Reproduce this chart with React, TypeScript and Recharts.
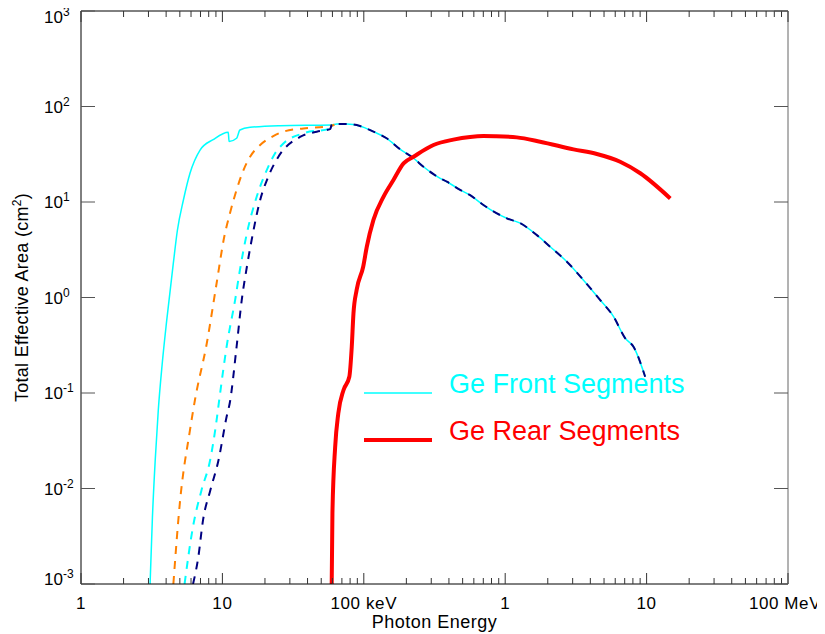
import React from 'react';
import { LineChart, Line, XAxis, YAxis, Legend } from 'recharts';

const FONT = '"Liberation Sans", Arial, Helvetica, sans-serif';

// photon energy (keV), total effective area (cm^2)
const frontTotal = [
  [3.08, 0.001], [3.2, 0.005], [3.35, 0.02], [3.52, 0.066], [3.75, 0.2], [4.04, 0.58],
  [4.5, 2.3], [4.8, 5], [5.3, 10.5], [5.9, 20], [6.95, 35], [8.6, 45], [11.0, 53.7],
  [11.15, 43], [12.6, 46.5], [13.3, 56.7], [15.7, 60.5], [25.6, 63], [59, 64.2],
  [64.4, 65.6], [75.6, 65.6], [94, 62.5], [117, 54.5], [145, 46.5], [181, 35.6],
  [225, 28.7], [264, 23.4], [311, 19.6], [347, 17.7], [387, 16.3], [480, 13.4],
  [565, 11.8], [702, 9.3], [1027, 6.75], [1276, 6.0], [1675, 4.5], [2080, 3.4],
  [2730, 2.37], [3580, 1.52], [4700, 0.94], [5840, 0.63], [7060, 0.374], [8080, 0.305],
  [9770, 0.148],
];

const frontOrange = [
  [4.5, 0.001], [5.0, 0.007], [5.9, 0.041], [6.4, 0.085], [7.75, 0.33], [9.1, 1.41],
  [10.3, 4.3], [11.3, 7.6], [12.6, 13.4], [14.1, 21.6], [15.7, 29.8], [18.5, 39.5],
  [22.9, 49], [27, 54.5], [37.4, 59], [57.8, 62.5], [62, 64.5],
];

const frontCyanDash = [
  [5.4, 0.001], [6.2, 0.004], [7.1, 0.0095], [8.2, 0.02], [9.1, 0.052], [9.5, 0.085],
  [10.8, 0.33], [12.3, 0.94], [13.3, 1.94], [14.9, 4.7], [17.5, 11.4], [20.6, 21.6],
  [23.6, 32.4], [27, 41], [37.4, 52.4], [57.8, 59], [59.5, 64.5],
];

const frontNavy = [
  [6.2, 0.001], [6.75, 0.0019], [7.3, 0.0047], [8.2, 0.0095], [9.4, 0.02], [10.7, 0.056],
  [11.3, 0.08], [12.6, 0.305], [13.7, 0.94], [14.9, 2.1], [16.1, 4.0], [18.5, 10.5],
  [21.1, 18.4], [24.9, 29.8], [35.4, 48], [46.5, 54.5], [57.8, 58], [59.5, 64.5],
  [64.4, 65.6], [75.6, 65.6], [94, 62.5], [117, 54.5], [145, 46.5], [181, 35.6],
  [225, 28.7], [264, 23.4], [311, 19.6], [347, 17.7], [387, 16.3], [480, 13.4],
  [565, 11.8], [702, 9.3], [1027, 6.75], [1276, 6.0], [1675, 4.5], [2080, 3.4],
  [2730, 2.37], [3580, 1.52], [4700, 0.94], [5840, 0.63], [7060, 0.374], [8080, 0.305],
  [9770, 0.148],
];

const rear = [
  [59.3, 0.001], [60, 0.0055], [62.7, 0.027], [66, 0.061], [71.8, 0.107], [79, 0.148],
  [82.2, 0.305], [84.5, 0.68], [89, 1.2], [99, 2.1], [105, 3.4], [117, 6.5], [138, 11.4],
  [162, 17], [191, 25.4], [225, 29.8], [311, 39.5], [430, 45], [565, 48], [702, 49],
  [850, 48.8], [1208, 47.5], [1766, 42.8], [3040, 35.6], [4450, 31.8], [6500, 26.4],
  [9020, 20], [14700, 10.9],
];

const xMajor = [1, 10, 100, 1000, 10000, 100000];
const xLabels = ['1', '10', '100 keV', '1', '10', '100 MeV'];
const xMinorMult = [2, 3, 4, 5, 6, 7, 8, 9];
const xTicks = [
  ...xMajor,
  ...xMajor.slice(0, 5).flatMap((d) => xMinorMult.map((m) => m * d)),
].sort((a, b) => a - b);

const yTicks = [0.001, 0.01, 0.1, 1, 10, 100, 1000];

const legendItems = [
  { name: 'Ge Front Segments', color: '#00ffff', width: 1.5 },
  { name: 'Ge Rear Segments', color: '#ff0000', width: 4 },
];

const toPts = (arr: number[][]) => arr.map(([e, a]) => ({ e, a }));

const XTick = (props: any) => {
  const { x, y, payload, side } = props;
  const idx = xMajor.indexOf(payload.value);
  const major = idx >= 0;
  const dir = side === 'top' ? 1 : -1;
  const len = major ? 11 : 6;
  // last label sits on the page edge, nudge it in a bit
  const dx = idx === xMajor.length - 1 ? -3 : 0;
  return (
    <g>
      <line x1={x} x2={x} y1={y} y2={y + dir * len} stroke="#333" />
      {side !== 'top' && major && (
        <text x={x + dx} y={y + 25} textAnchor="middle" fontSize={17} letterSpacing={0.6}
          fontFamily={FONT} fill="#000">
          {xLabels[idx]}
        </text>
      )}
    </g>
  );
};

const YTick = (props: any) => {
  const { x, y, payload, side } = props;
  const exp = Math.round(Math.log10(payload.value));
  if (side === 'right') {
    return <line x1={x} x2={x - 14} y1={y} y2={y} stroke="#555" />;
  }
  const shift = exp === 3 ? 6 : exp === -3 ? -5 : 0;
  return (
    <g>
      <line x1={x} x2={x + 14} y1={y} y2={y} stroke="#555" />
      <text x={x - 37} y={y + shift + 6} fontSize={17} fontFamily={FONT} fill="#000">
        10<tspan dy={-7} fontSize={12}>{exp}</tspan>
      </text>
    </g>
  );
};

const YTitle = (props: any) => {
  const vb = props.viewBox;
  const cx = vb.x + vb.width - 59;
  const cy = vb.y + vb.height / 2;
  return (
    <text x={cx} y={cy} transform={`rotate(-90 ${cx} ${cy})`} textAnchor="middle" dy={6}
      fontSize={18} letterSpacing={0.3} fontFamily={FONT} fill="#000">
      Total Effective Area (cm<tspan dy={-7} fontSize={12}>2</tspan><tspan dy={7}>)</tspan>
    </text>
  );
};

const XTitle = (props: any) => {
  const vb = props.viewBox;
  return (
    <text x={vb.x + vb.width / 2} y={vb.y + 44} textAnchor="middle" fontSize={18}
      letterSpacing={0.5} fontFamily={FONT} fill="#000">
      Photon Energy
    </text>
  );
};

const renderLegend = () => (
  <svg width={360} height={90} style={{ overflow: 'visible' }}>
    {legendItems.map((item, i) => (
      <g key={item.name}>
        <line x1={6} x2={74} y1={25 + 47 * i} y2={25 + 47 * i} stroke={item.color}
          strokeWidth={item.width} />
        <text x={91} y={25 + 47 * i} fill={item.color} fontSize={27} fontFamily={FONT}>
          {item.name}
        </text>
      </g>
    ))}
  </svg>
);

export default function App() {
  return (
    <div style={{ width: 825, height: 634, margin: '-8px 0 0 -8px' }}>
      <LineChart width={825} height={634} margin={{ top: 10, right: 36, bottom: 20, left: 21 }}>
        <XAxis dataKey="e" type="number" scale="log" domain={[1, 100000]} ticks={xTicks}
          interval={0} allowDataOverflow tickLine={false} tickSize={0} tickMargin={0}
          height={30} axisLine={{ stroke: '#000' }} tick={<XTick side="bottom" />}
          label={<XTitle />} />
        <XAxis xAxisId="top" orientation="top" dataKey="e" type="number" scale="log"
          domain={[1, 100000]} ticks={xTicks} interval={0} allowDataOverflow tickLine={false}
          tickSize={0} tickMargin={0} height={1} axisLine={{ stroke: '#000' }}
          tick={<XTick side="top" />} />
        <YAxis type="number" scale="log" domain={[0.001, 1000]} ticks={yTicks} interval={0}
          allowDataOverflow tickLine={false} tickSize={0} tickMargin={0} width={60}
          axisLine={{ stroke: '#000' }} tick={<YTick side="left" />} label={<YTitle />} />
        <YAxis yAxisId="right" orientation="right" type="number" scale="log"
          domain={[0.001, 1000]} ticks={yTicks} interval={0} allowDataOverflow tickLine={false}
          tickSize={0} tickMargin={0} width={1} axisLine={{ stroke: '#666' }}
          tick={<YTick side="right" />} />
        <Legend layout="vertical" align="center" verticalAlign="middle" content={renderLegend}
          wrapperStyle={{ left: 358, top: 368, width: 360 }} />
        <Line data={toPts(frontTotal)} dataKey="a" type="monotone" stroke="#00ffff"
          strokeWidth={1.5} dot={false} activeDot={false} isAnimationActive={false} />
        <Line data={toPts(frontOrange)} dataKey="a" type="monotone" stroke="#ff8000"
          strokeWidth={2} strokeDasharray="8 7" dot={false} activeDot={false}
          isAnimationActive={false} />
        <Line data={toPts(frontCyanDash)} dataKey="a" type="monotone" stroke="#00ffff"
          strokeWidth={2} strokeDasharray="8 7" dot={false} activeDot={false}
          isAnimationActive={false} />
        <Line data={toPts(frontNavy)} dataKey="a" type="monotone" stroke="#000080"
          strokeWidth={2} strokeDasharray="8 7" dot={false} activeDot={false}
          isAnimationActive={false} />
        <Line data={toPts(rear)} dataKey="a" xAxisId="top" yAxisId="right" type="monotone"
          stroke="#ff0000" strokeWidth={4} dot={false} activeDot={false}
          isAnimationActive={false} />
      </LineChart>
    </div>
  );
}
